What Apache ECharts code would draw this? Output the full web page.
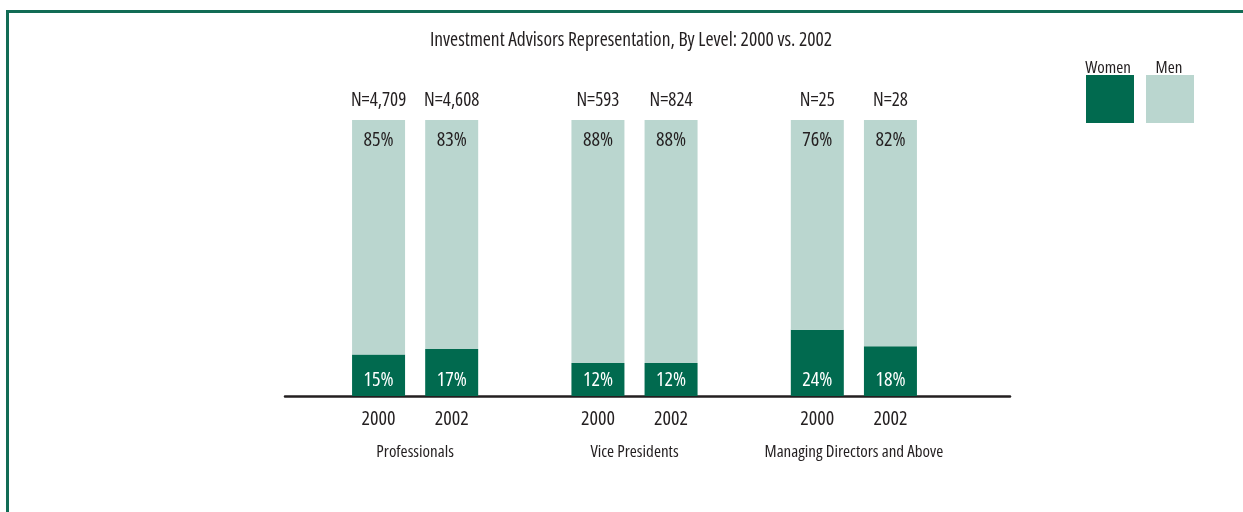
<!DOCTYPE html>
<html>
<head>
<meta charset="utf-8">
<script src="https://cdn.jsdelivr.net/npm/echarts@6/dist/echarts.min.js"></script>
<style>
html, body { margin: 0; padding: 0; background: #fff; }
#main { width: 1243px; height: 512px; }
</style>
</head>
<body>
<div id="main"></div>
<script>
// data
var groups = ['Professionals', 'Vice Presidents', 'Managing Directors and Above'];
var years = ['2000', '2002'];
var women = [15, 17, 12, 12, 24, 18];
var men = [85, 83, 88, 88, 76, 82];
var counts = ['N=4,709', 'N=4,608', 'N=593', 'N=824', 'N=25', 'N=28'];

// narrow face: Open Sans with condensed stretch (passed through fontStyle)
var FONT = "'Open Sans', sans-serif";
var NARROW = 'condensed';
var TXT = '#231f20';
var GREEN = '#016a4f';
var LIGHT = '#bad6cf';

// category slots: 2000, 2002, gap, 2000, 2002, gap, ...
var slots = [], womenData = [], menData = [], topData = [], topLabel = [];
var groupTicks = [''];
groups.forEach(function (g, gi) {
	if (gi > 0) {
		slots.push('');
		womenData.push('-');
		menData.push('-');
		topData.push('-');
		topLabel.push('');
		groupTicks.push('');
	}
	years.forEach(function (y, yi) {
		var k = gi * years.length + yi;
		slots.push(y);
		womenData.push(women[k]);
		menData.push(men[k]);
		topData.push(women[k] + men[k]);
		topLabel.push(counts[k]);
	});
	groupTicks.push(g);
	groupTicks.push('');
});

var chart = echarts.init(document.getElementById('main'));
chart.setOption({
	backgroundColor: '#fff',
	animation: false,
	textStyle: { fontFamily: FONT, fontStyle: NARROW },
	title: {
		text: 'Investment Advisors Representation, By Level: 2000 vs. 2002',
		left: 626,
		textAlign: 'center',
		top: 25,
		textStyle: { fontFamily: FONT, fontStyle: NARROW, fontSize: 19.5, fontWeight: 'normal', color: TXT }
	},
	legend: {
		data: ['Women', 'Men'],
		left: 1086,
		top: 75,
		padding: 0,
		icon: 'rect',
		itemWidth: 48,
		itemHeight: 48,
		itemGap: 12,
		formatter: function () { return ''; },
		selectedMode: false
	},
	graphic: [
		{
			type: 'polyline',
			shape: { points: [[7.5, 512], [7.5, 11.5], [1243, 11.5]] },
			style: { stroke: '#126c55', lineWidth: 3, fill: null }
		},
		{
			type: 'text', x: 1108, y: 77,
			style: { text: 'Women', font: NARROW + " 17px " + FONT, fill: TXT, align: 'center', verticalAlign: 'bottom' }
		},
		{
			type: 'text', x: 1169, y: 77,
			style: { text: 'Men', font: NARROW + " 17px " + FONT, fill: TXT, align: 'center', verticalAlign: 'bottom' }
		}
	],
	grid: [
		{ left: 342, right: 316, top: 120, bottom: 116 },
		{ left: 285, right: 233, top: 120, bottom: 116 }
	],
	xAxis: [
		{
			type: 'category',
			gridIndex: 0,
			data: slots,
			axisLine: { show: false },
			axisTick: { show: false },
			axisLabel: { interval: 0, margin: 13, fontSize: 20, color: TXT, fontFamily: FONT, fontStyle: NARROW }
		},
		{
			type: 'category',
			gridIndex: 0,
			position: 'bottom',
			boundaryGap: false,
			data: groupTicks,
			axisLine: { show: false },
			axisTick: { show: false },
			axisLabel: { interval: 0, margin: 48, fontSize: 17, color: TXT, fontFamily: FONT, fontStyle: NARROW }
		},
		{
			type: 'value',
			gridIndex: 1,
			min: 0,
			max: 1,
			axisLine: { show: true, lineStyle: { color: TXT, width: 2.5 } },
			axisTick: { show: false },
			axisLabel: { show: false },
			splitLine: { show: false }
		}
	],
	yAxis: [
		{ type: 'value', gridIndex: 0, min: 0, max: 100, show: false },
		{ type: 'value', gridIndex: 1, min: 0, max: 100, show: false }
	],
	series: [
		{
			name: 'Women',
			type: 'bar',
			stack: 'all',
			xAxisIndex: 0,
			yAxisIndex: 0,
			barWidth: 53,
			data: womenData,
			itemStyle: { color: GREEN },
			label: {
				show: true, position: 'insideBottom', distance: 6,
				formatter: '{c}%', color: '#fff', fontSize: 20, fontFamily: FONT, fontStyle: NARROW
			}
		},
		{
			name: 'Men',
			type: 'bar',
			stack: 'all',
			xAxisIndex: 0,
			yAxisIndex: 0,
			barWidth: 53,
			data: menData,
			itemStyle: { color: LIGHT },
			label: {
				show: true, position: 'insideTop', distance: 10,
				formatter: '{c}%', color: TXT, fontSize: 20, fontFamily: FONT, fontStyle: NARROW
			}
		},
		{
			name: 'N',
			type: 'scatter',
			xAxisIndex: 0,
			yAxisIndex: 0,
			symbolSize: 1,
			itemStyle: { color: 'transparent', opacity: 1 },
			data: topData,
			label: {
				show: true, position: 'top', distance: 9,
				formatter: function (p) { return topLabel[p.dataIndex]; },
				color: TXT, fontSize: 19, fontFamily: FONT, fontStyle: NARROW
			}
		}
	]
});
</script>
</body>
</html>
